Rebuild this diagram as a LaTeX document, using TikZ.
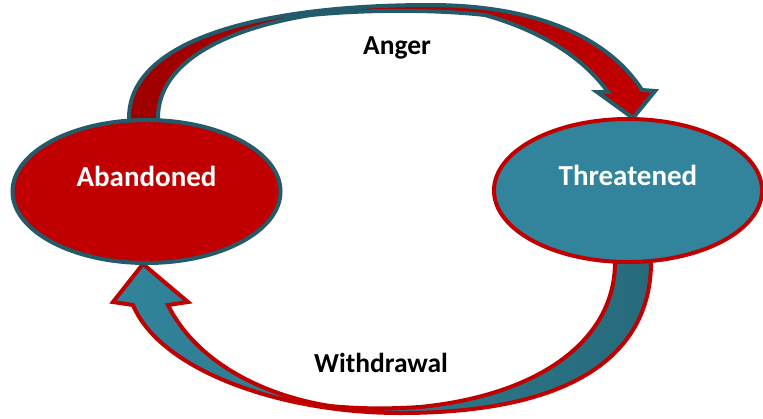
\documentclass[tikz,border=0pt]{standalone}
\usepackage{fontspec}
\setmainfont{Carlito}
\usetikzlibrary{shapes.geometric}
\definecolor{darkteal}{HTML}{245B6A}
\definecolor{lightteal}{HTML}{31849B}
\definecolor{deepteal}{HTML}{276B7B}
\definecolor{brightred}{HTML}{C00000}
\definecolor{deepred}{HTML}{9E0000}
\tikzset{
  state/.style={ellipse, line width=4pt, minimum width=268pt, minimum height=143pt, inner sep=0pt,
    text=white, font=\bfseries\fontsize{29}{31}\selectfont, text height=20pt, text depth=31pt},
  flowlabel/.style={font=\bfseries\fontsize{27.5}{30}\selectfont, anchor=base},
  bandarrow/.style={line width=4pt, line join=miter},
}
\begin{document}
\begin{tikzpicture}[x=1pt, y=-1pt]
\useasboundingbox (0,0) rectangle (763,418);

\draw [bandarrow, draw=darkteal, left color=deepred, right color=brightred]
  (129,125) -- (129,118) .. controls (129,40) and (260,5) .. (430,5)
  .. controls (540,5) and (610,40) .. (642,90) -- (655,91) -- (633,118) -- (597,92) -- (608,92)
  .. controls (585,60) and (545,32) .. (485,15) .. controls (430,9) and (360,10) .. (311,15)
  .. controls (230,28) and (158,60) .. (158,118) -- (158,125) -- cycle;
\draw [bandarrow, draw=brightred, left color=lightteal, right color=deepteal]
  (651,255) -- (651,262) .. controls (651,350) and (580,413) .. (400,413)
  .. controls (280,413) and (160,370) .. (133,305) -- (113,302) -- (143,264) -- (188,302) -- (168,305)
  .. controls (195,360) and (260,395) .. (330,406) .. controls (360,409) and (390,409) .. (420,407)
  .. controls (540,395) and (615,340) .. (615,262) -- (615,255) -- cycle;

\node [state, draw=darkteal, fill=brightred] (abandoned) at (146.5,191.5) {Abandoned};
\node [state, draw=brightred, fill=lightteal] (threatened) at (628,190.5) {Threatened};

\node [flowlabel] (anger) at (397,54) {Anger};
\node [flowlabel] (withdrawal) at (381,372) {Withdrawal};
\end{tikzpicture}
\end{document}
